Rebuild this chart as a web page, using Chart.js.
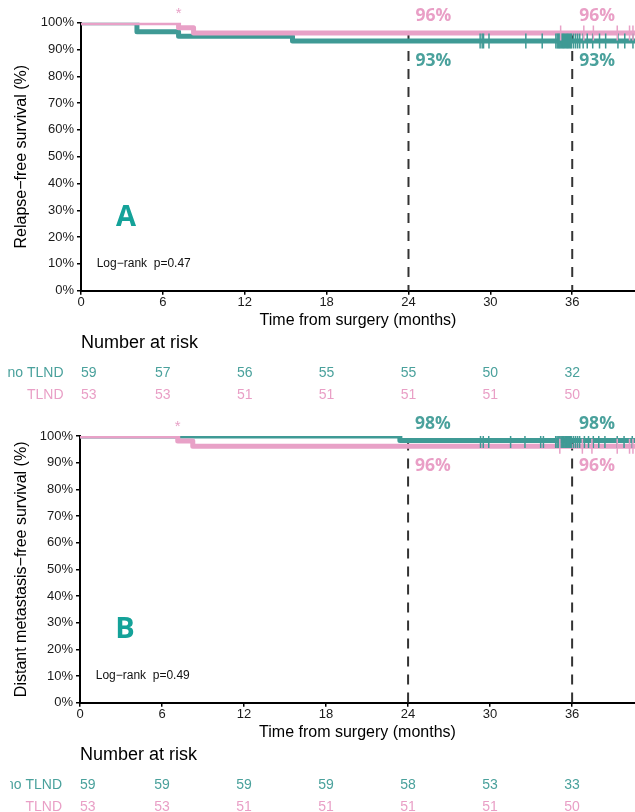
<!DOCTYPE html>
<html>
<head>
<meta charset="utf-8">
<script src="https://cdn.jsdelivr.net/npm/chart.js@4.4.0/dist/chart.umd.min.js"></script>
<style>
  body { margin: 0; background: #fff; width: 635px; height: 812px; overflow: hidden; position: relative; }
  canvas { position: absolute; left: 0; }
  #rfs { top: 0; }
  #dmfs { top: 406px; }
</style>
</head>
<body>
<canvas id="rfs" width="635" height="406"></canvas>
<canvas id="dmfs" width="635" height="406"></canvas>
<script>
// tijden in maanden, overleving in %
const riskTimes = [0, 6, 12, 18, 24, 30, 36];
const landmarks = [24, 36];
const groupNames = ["no TLND", "TLND"];

// A: relapse-free survival
const rfsNoTlndTime = [0, 4.1, 7.15, 15.5, 42];
const rfsNoTlndSurv = [100, 96.6, 94.9, 93.2, 93.2];
const rfsTlndTime = [0, 7.15, 8.25, 42];
const rfsTlndSurv = [100, 98.1, 96.2, 96.2];
const rfsNoTlndCensor = [29.25, 29.4, 29.5, 29.9, 32.6, 33.8, 34.8, 34.9, 34.98, 35.05, 35.12, 35.2, 35.28, 35.35, 35.42, 35.5, 35.58, 35.65, 35.72, 35.8, 35.88, 35.95, 36.1, 36.25, 36.4, 36.55, 36.8, 37.1, 37.5, 38.0, 38.45, 39.35, 39.85, 40.45];
const rfsTlndCensor = [35.15, 36.85, 37.55, 39.3, 40.2, 40.45];
const rfsNoTlndRisk = [59, 57, 56, 55, 55, 50, 32];
const rfsTlndRisk = [53, 53, 51, 51, 51, 51, 50];
const rfsNoTlndPct = [93, 93];
const rfsTlndPct = [96, 96];

// B: distant metastasis-free survival
const dmfsNoTlndTime = [0, 23.4, 42];
const dmfsNoTlndSurv = [100, 98.3, 98.3];
const dmfsTlndTime = [0, 7.15, 8.25, 42];
const dmfsTlndSurv = [100, 98.1, 96.2, 96.2];
const dmfsNoTlndCensor = [29.3, 29.5, 29.9, 31.5, 32.55, 33.7, 33.9, 34.8, 34.9, 34.98, 35.05, 35.12, 35.2, 35.28, 35.35, 35.42, 35.5, 35.58, 35.65, 35.72, 35.8, 35.88, 35.95, 36.1, 36.25, 36.4, 36.55, 36.9, 37.2, 37.55, 37.95, 38.4, 39.3, 39.8, 40.4];
const dmfsTlndCensor = [35.1, 36.75, 37.45, 39.3, 40.2, 40.45];
const dmfsNoTlndRisk = [59, 59, 59, 59, 58, 53, 33];
const dmfsTlndRisk = [53, 53, 51, 51, 51, 51, 50];
const dmfsNoTlndPct = [98, 98];
const dmfsTlndPct = [96, 96];

const teal = "#3f9a95";
const pink = "#e8a1c7";
const tealText = "#4aa19c";
const pinkText = "#e99fc6";
const sans = '"Liberation Sans", Arial, Helvetica, sans-serif';

Chart.defaults.font.family = sans;

function curve(times, surv) {
    return times.map((t, i) => ({ x: t, y: surv[i] }));
}

function survAt(times, surv, t) {
    let s = surv[0];
    for (let i = 0; i < times.length; i++) {
        if (times[i] <= t) s = surv[i];
    }
    return s;
}

function censorPoints(censor, times, surv) {
    return censor.map(t => ({ x: t, y: survAt(times, surv, t) }));
}

// tabel met aantallen at risk onder de grafiek
const riskTable = {
    id: "riskTable",
    afterDraw(chart, args, opts) {
        const { ctx, chartArea } = chart;
        const x = chart.scales.x;
        ctx.save();
        ctx.textBaseline = "middle";
        ctx.fillStyle = "#000";
        ctx.font = "18px " + sans;
        ctx.textAlign = "left";
        ctx.fillText("Number at risk", x.getPixelForValue(0), chartArea.bottom + 52);
        ctx.font = "14px " + sans;
        opts.rows.forEach((row, r) => {
            const y = chartArea.bottom + (r === 0 ? 82.8 : 104.3);
            ctx.fillStyle = row.color;
            ctx.save();
            ctx.beginPath();
            ctx.rect(opts.clipLeft, 0, 200, chart.height);
            ctx.clip();
            ctx.textAlign = "right";
            ctx.fillText(row.label, opts.labelRight, y);
            ctx.restore();
            row.values.forEach((v, i) => {
                ctx.textAlign = i === 0 ? "left" : "center";
                ctx.fillText(String(v), x.getPixelForValue(riskTimes[i]), y);
            });
        });
        ctx.restore();
    }
};

// percentages bij 24 en 36 maanden, letter, log-rank en sterretje
const labels = {
    id: "labels",
    afterDatasetsDraw(chart, args, opts) {
        const { ctx } = chart;
        const x = chart.scales.x, y = chart.scales.y;
        ctx.save();
        ctx.font = "bold 17.5px \"Open Sans\", " + sans;
        ctx.textAlign = "left";
        ctx.textBaseline = "middle";
        landmarks.forEach((t, i) => {
            const px = x.getPixelForValue(t) + 7;
            const upper = opts.upper, lower = opts.lower;
            ctx.fillStyle = upper.color;
            ctx.fillText(upper.pct[i] + "%", px, y.getPixelForValue(upper.at) - 17);
            ctx.fillStyle = lower.color;
            ctx.fillText(lower.pct[i] + "%", px, y.getPixelForValue(lower.at) + 20);
        });

        ctx.textAlign = "center";
        ctx.fillStyle = "#14a299";
        ctx.font = "bold 29px \"Open Sans\", " + sans;
        ctx.fillText(opts.letter, x.getPixelForValue(3.3), y.getPixelForValue(27.4));

        ctx.textAlign = "left";
        ctx.fillStyle = "#111";
        ctx.font = "12px \"Liberation Sans Narrow\", " + sans;
        ctx.fillText(opts.logrank, x.getPixelForValue(1.15), y.getPixelForValue(10.2));

        ctx.textAlign = "center";
        ctx.fillStyle = pink;
        ctx.font = "15px " + sans;
        ctx.fillText("*", x.getPixelForValue(opts.star), y.getPixelForValue(100) - 9);
        ctx.restore();
    }
};

function makeChart(id, cfg) {
    const datasets = [];
    landmarks.forEach(t => {
        datasets.push({
            data: [{ x: t, y: Math.max(cfg.noAt, cfg.tlAt) }, { x: t, y: 0 }],
            borderColor: "#333", borderWidth: 2, borderDash: [10, 8],
            pointRadius: 0, order: 10
        });
    });
    datasets.push({
        data: curve(cfg.noTime, cfg.noSurv), borderColor: teal, borderWidth: 5,
        stepped: "before", pointRadius: 0, borderJoinStyle: "round", order: 4
    });
    datasets.push({
        data: curve(cfg.tlTime, cfg.tlSurv), borderColor: pink, borderWidth: 5,
        stepped: "before", pointRadius: 0, borderJoinStyle: "round", order: 3
    });
    datasets.push({
        data: censorPoints(cfg.noCensor, cfg.noTime, cfg.noSurv), showLine: false,
        pointStyle: "line", rotation: 90, pointRadius: 7.5, pointBorderWidth: 1.5,
        pointBorderColor: teal, order: 2
    });
    datasets.push({
        data: censorPoints(cfg.tlCensor, cfg.tlTime, cfg.tlSurv), showLine: false,
        pointStyle: "line", rotation: 90, pointRadius: 7.5, pointBorderWidth: 1.5,
        pointBorderColor: pink, order: 1
    });

    const noUpper = cfg.noAt > cfg.tlAt;
    const noLabel = { color: tealText, pct: cfg.noPct, at: cfg.noAt };
    const tlLabel = { color: pinkText, pct: cfg.tlPct, at: cfg.tlAt };

    return new Chart(document.getElementById(id), {
        type: "line",
        data: { datasets: datasets },
        plugins: [riskTable, labels],
        options: {
            responsive: false,
            animation: false,
            events: [],
            devicePixelRatio: 1,
            layout: { autoPadding: false, padding: { top: cfg.padTop, bottom: cfg.padBottom, left: 0, right: 0 } },
            plugins: {
                legend: { display: false },
                tooltip: { enabled: false },
                riskTable: {
                    rows: [
                        { label: groupNames[0], color: tealText, values: cfg.noRisk },
                        { label: groupNames[1], color: pinkText, values: cfg.tlRisk }
                    ],
                    labelRight: cfg.labelRight,
                    clipLeft: cfg.clipLeft
                },
                labels: {
                    upper: noUpper ? noLabel : tlLabel,
                    lower: noUpper ? tlLabel : noLabel,
                    letter: cfg.letter,
                    logrank: cfg.logrank,
                    star: cfg.tlTime[1]
                }
            },
            scales: {
                x: {
                    type: "linear",
                    min: 0,
                    max: 40.6,
                    ticks: { stepSize: 6, includeBounds: false, autoSkip: false, maxRotation: 0,
                        font: { size: 13 }, color: "#1a1a1a", padding: 0 },
                    grid: { drawOnChartArea: false, drawTicks: true, tickLength: 4, lineWidth: 1.5, color: "#000" },
                    border: { display: true, color: "#000", width: 2 },
                    title: { display: true, text: "Time from surgery (months)", color: "#000",
                        font: { size: 16 }, padding: { top: 0, bottom: 3 } },
                    afterFit: s => { s.height = 42.3; s.paddingLeft = 0; s.paddingRight = 0; }
                },
                y: {
                    min: 0,
                    max: 100,
                    ticks: { stepSize: 10, callback: v => v + "%", font: { size: 13 }, color: "#1a1a1a", padding: 3 },
                    grid: { drawOnChartArea: false, drawTicks: true, tickLength: 4, lineWidth: 1.5, color: "#000" },
                    border: { display: true, color: "#000", width: 2 },
                    title: { display: true, text: cfg.yTitle, color: "#000",
                        font: { size: 16 }, padding: { top: 11.5, bottom: 0 } },
                    afterFit: s => { s.width = cfg.left; }
                }
            }
        }
    });
}

makeChart("rfs", {
    noTime: rfsNoTlndTime, noSurv: rfsNoTlndSurv, noCensor: rfsNoTlndCensor, noRisk: rfsNoTlndRisk, noPct: rfsNoTlndPct,
    tlTime: rfsTlndTime, tlSurv: rfsTlndSurv, tlCensor: rfsTlndCensor, tlRisk: rfsTlndRisk, tlPct: rfsTlndPct,
    noAt: rfsNoTlndSurv[rfsNoTlndSurv.length - 1], tlAt: rfsTlndSurv[rfsTlndSurv.length - 1],
    yTitle: "Relapse\u2212free survival (%)", letter: "A", logrank: "Log\u2212rank  p=0.47",
    padTop: 22.7, padBottom: 73, left: 81, labelRight: 63.5, clipLeft: 0
});

makeChart("dmfs", {
    noTime: dmfsNoTlndTime, noSurv: dmfsNoTlndSurv, noCensor: dmfsNoTlndCensor, noRisk: dmfsNoTlndRisk, noPct: dmfsNoTlndPct,
    tlTime: dmfsTlndTime, tlSurv: dmfsTlndSurv, tlCensor: dmfsTlndCensor, tlRisk: dmfsTlndRisk, tlPct: dmfsTlndPct,
    noAt: dmfsNoTlndSurv[dmfsNoTlndSurv.length - 1], tlAt: dmfsTlndSurv[dmfsTlndSurv.length - 1],
    yTitle: "Distant metastasis\u2212free survival (%)", letter: "B", logrank: "Log\u2212rank  p=0.49",
    padTop: 30, padBottom: 67, left: 80, labelRight: 62, clipLeft: 10
});
</script>
</body>
</html>
